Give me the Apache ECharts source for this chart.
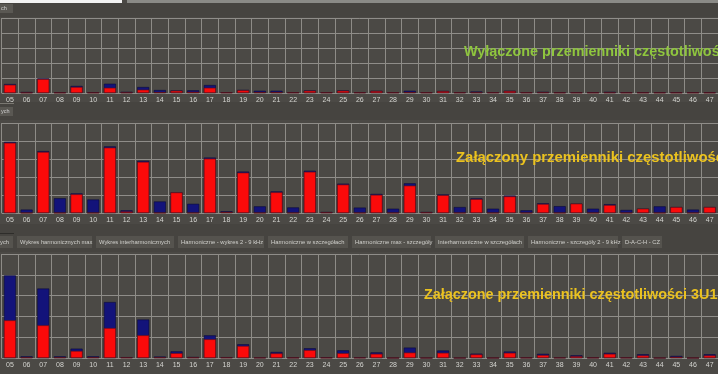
<!DOCTYPE html>
<html><head><meta charset="utf-8">
<script src="https://cdn.jsdelivr.net/npm/echarts@6/dist/echarts.min.js"></script>
<style>html,body{margin:0;padding:0;background:#4b4945;}#c{width:718px;height:374px;}</style>
</head><body><div id="c"></div>
<script>
const categories = ['05','06','07','08','09','10','11','12','13','14','15','16','17','18','19','20','21','22','23','24','25','26','27','28','29','30','31','32','33','34','35','36','37','38','39','40','41','42','43','44','45','46','47'];

const titles = ['Wyłączone przemienniki częstotliwości', 'Załączony przemienniki częstotliwości', 'Załączone przemienniki częstotliwości 3U1'];

const tabLabels = ['ych','Wykres harmonicznych max','Wykres interharmonicznych','Harmoniczne - wykres 2 - 9 kHz','Harmoniczne w szczegółach','Harmoniczne max - szczegóły','Interharmoniczne w szczegółach','Harmoniczne - szczegóły 2 - 9 kHz','D-A-C-H - CZ'];

const p1Red  = [0.55,0.02,0.93,0.02,0.40,0.02,0.35,0.03,0.22,0.05,0.15,0.07,0.35,0.03,0.18,0.05,0.05,0.03,0.15,0.03,0.15,0.03,0.13,0.03,0.05,0.03,0.12,0.03,0.04,0.03,0.13,0.03,0.04,0.02,0.02,0.02,0.03,0.02,0.02,0.02,0.02,0.02,0.02];
const p1Blue = [0.60,0.07,0.97,0.05,0.47,0.05,0.62,0.08,0.40,0.20,0.17,0.18,0.53,0.05,0.21,0.15,0.15,0.05,0.17,0.05,0.17,0.05,0.15,0.05,0.15,0.05,0.14,0.05,0.10,0.05,0.15,0.05,0.08,0.05,0.05,0.05,0.08,0.05,0.05,0.05,0.05,0.05,0.05];

const p2Red  = [3.90,0,3.39,0,1.04,0,3.63,0.08,2.84,0,1.14,0,3.02,0.05,2.24,0,1.15,0,2.29,0.03,1.58,0,1.01,0,1.52,0.03,0.99,0,0.77,0,0.92,0,0.50,0,0.52,0,0.44,0,0.24,0,0.33,0,0.33];
const p2Blue = [3.95,0.19,3.44,0.82,1.09,0.75,3.70,0.15,2.90,0.64,1.14,0.51,3.08,0.10,2.30,0.37,1.20,0.31,2.35,0.06,1.63,0.30,1.06,0.24,1.65,0.06,1.03,0.33,0.81,0.24,0.97,0.15,0.54,0.38,0.52,0.24,0.49,0.17,0.24,0.37,0.33,0.19,0.33];

const p3Red  = [1.81,0.03,1.57,0.03,0.34,0.03,1.44,0.02,1.09,0.03,0.23,0.02,0.90,0.02,0.58,0.01,0.22,0.01,0.38,0.01,0.23,0.01,0.20,0,0.26,0,0.25,0,0.17,0,0.25,0.01,0.14,0.01,0.08,0.01,0.20,0.01,0.12,0,0.05,0,0.12];
const p3Blue = [3.97,0.08,3.34,0.08,0.45,0.08,2.69,0.04,1.85,0.07,0.32,0.05,1.09,0.04,0.66,0.02,0.29,0.02,0.47,0.03,0.37,0.03,0.27,0,0.50,0,0.36,0,0.21,0,0.31,0.02,0.20,0.02,0.13,0.02,0.25,0.02,0.18,0,0.10,0,0.18];

const panels = [
  {top:18, height:75, red:p1Red, blue:p1Blue},
  {top:123, height:90, red:p2Red, blue:p2Blue},
  {top:254, height:104, red:p3Red, blue:p3Blue}
];

const chart = echarts.init(document.getElementById('c'), null, {renderer:'canvas'});
const grids = [], xAxes = [], yAxes = [], series = [];
panels.forEach((p, i) => {
  grids.push({left:1.6, width:717.8, top:p.top, height:p.height, show:false});
  xAxes.push({type:'category', gridIndex:i, data:categories,
    axisLine:{show:false}, axisTick:{show:false},
    axisLabel:{color:'#d4d4d0', fontSize:7, margin:4, interval:0, fontFamily:'Liberation Sans'},
    splitLine:{show:true, lineStyle:{color:'#8e8c87', width:1}}});
  yAxes.push({type:'value', gridIndex:i, min:0, max:5, interval:1,
    axisLabel:{show:false}, axisLine:{show:false}, axisTick:{show:false},
    splitLine:{show:true, lineStyle:{color:'#8f8d89', width:1}}});
  series.push({type:'bar', xAxisIndex:i, yAxisIndex:i, data:p.blue, barWidth:12, barGap:'-100%',
    itemStyle:{color:'#13137a', borderColor:'#0a0a3a', borderWidth:0.6}, silent:true, animation:false});
  series.push({type:'bar', xAxisIndex:i, yAxisIndex:i, data:p.red, barWidth:12, barGap:'-100%',
    itemStyle:{color:'#fb0a0a', borderColor:'#6a1010', borderWidth:0.6}, silent:true, animation:false});
});

const tabX = [0,17,96,178,268,352,435,528,622];
const tabW = [13,75,78,86,80,79,89,90,40];
const graphics = [
  {type:'rect', shape:{x:0,y:0,width:122,height:3}, style:{fill:'#f2f2f2'}},
  {type:'rect', shape:{x:127,y:0,width:591,height:3}, style:{fill:'#8a8a86'}},
  {type:'rect', shape:{x:0,y:3,width:718,height:14}, style:{fill:'#464440'}},
  {type:'rect', shape:{x:0,y:4,width:13,height:9}, style:{fill:'#5a5853'}},
  {type:'text', x:1, y:8.5, style:{text:'ch', fill:'#cfcfcf', font:'5.5px Liberation Sans', textVerticalAlign:'middle'}},
  {type:'rect', shape:{x:0,y:102,width:718,height:18}, style:{fill:'#464440'}},
  {type:'rect', shape:{x:0,y:103,width:14,height:1}, style:{fill:'#7a7872'}},
  {type:'rect', shape:{x:0,y:107,width:13,height:9}, style:{fill:'#5a5853'}},
  {type:'text', x:1, y:111.5, style:{text:'ych', fill:'#cfcfcf', font:'5.5px Liberation Sans', textVerticalAlign:'middle'}},
  {type:'rect', shape:{x:0,y:224,width:718,height:28}, style:{fill:'#464440'}},
  {type:'rect', shape:{x:0,y:233,width:14,height:1}, style:{fill:'#2e2d2a'}}
];
tabLabels.forEach((t, k) => {
  graphics.push({type:'rect', shape:{x:tabX[k], y:236, width:tabW[k], height:12}, style:{fill:'#55534e'}});
  graphics.push({type:'text', x:tabX[k] + (k===0?0:3), y:242.5, style:{text:t, fill:'#d0d0cc', font:'5.8px Liberation Sans', textVerticalAlign:'middle'}});
});
graphics.push({type:'text', z:100, x:464, y:52, style:{text:titles[0], fill:'#8fc63e', font:'bold 14.4px Liberation Sans', textVerticalAlign:'middle'}});
graphics.push({type:'text', z:100, x:456, y:158, style:{text:titles[1], fill:'#ebc21f', font:'bold 14.9px Liberation Sans', textVerticalAlign:'middle'}});
graphics.push({type:'text', z:100, x:424, y:295, style:{text:titles[2], fill:'#ebc21f', font:'bold 14.4px Liberation Sans', textVerticalAlign:'middle'}});

chart.setOption({
  backgroundColor:'#4b4945',
  animation:false,
  grid:grids, xAxis:xAxes, yAxis:yAxes, series:series,
  graphic:{elements:graphics}
});
</script></body></html>
